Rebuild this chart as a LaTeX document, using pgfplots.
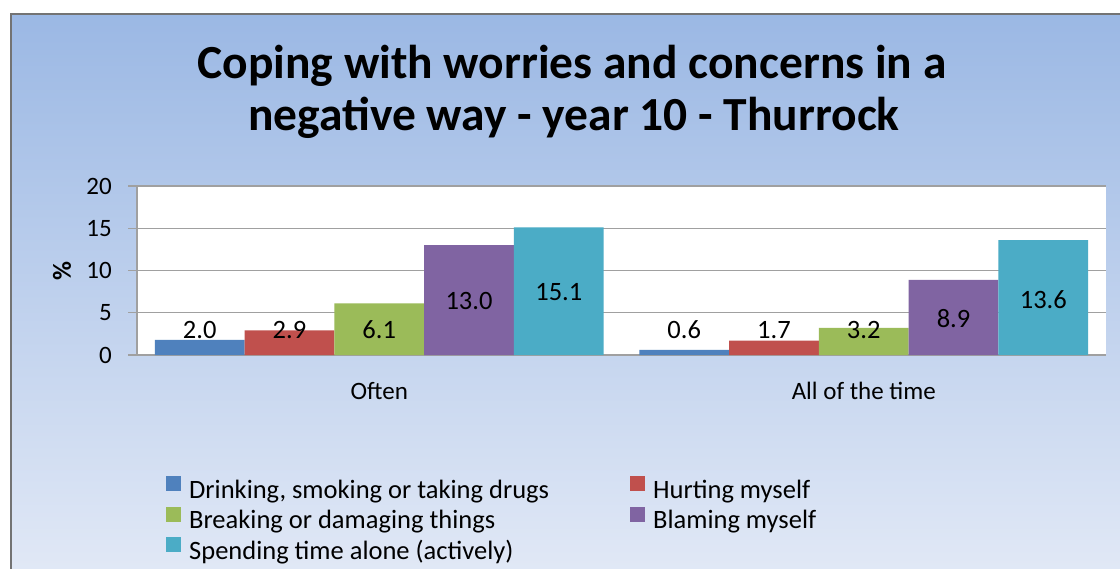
\documentclass[border=0pt]{standalone}
\usepackage{pgfplots}
\pgfplotsset{compat=1.18}
\usepackage{fontspec}
\setmainfont{Carlito}

\definecolor{sDrink}{HTML}{4F81BD}
\definecolor{sHurt}{HTML}{C0504D}
\definecolor{sBreak}{HTML}{9BBB59}
\definecolor{sBlame}{HTML}{8064A2}
\definecolor{sAlone}{HTML}{4BACC6}
\definecolor{bgTop}{RGB}{155,184,228}
\definecolor{bgBot}{RGB}{226,233,246}
\definecolor{gridGray}{RGB}{160,160,160}

\newcommand{\fs}[1]{\fontsize{#1}{#1}\selectfont}

\begin{document}
\begin{tikzpicture}[x=1pt,y=1pt]
\useasboundingbox (0,0) rectangle (1120,-569);
\clip (0,0) rectangle (1120,-569);
\shade[top color=bgTop, bottom color=bgBot] (11,-14) rectangle (1130,-580);
\draw[gray!90!black, line width=1.8pt] (11,-580) -- (11,-14) -- (1130,-14);

% title
\node[anchor=base, font=\bfseries\fs{47.5}] at (572,-79) {Coping with worries and concerns in a};
\node[anchor=base, font=\bfseries\fs{47.5}] at (574,-131) {negative way - year 10 - Thurrock};

\begin{axis}[
    at={(137pt,-355pt)}, anchor=south west,
    scale only axis, width=969pt, height=169pt,
    xmin=-0.5, xmax=1.5, ymin=0, ymax=20,
    ytick={0,5,10,15,20},
    xtick={0,1}, xticklabels={Often, All of the time},
    axis x line*=bottom, axis y line*=left,
    axis line style={gridGray, line width=1.2pt, -},
    axis background/.style={fill=white},
    ymajorgrids, grid style={gridGray, line width=1.2pt},
    tick align=outside, major tick length=9pt,
    ytick style={gridGray, line width=1.2pt},
    xtick style={draw=none},
    /pgf/number format/assume math mode=true,
    tick label style={font=\fs{25}},
    yticklabel style={inner sep=0pt, anchor=east, xshift=-16pt},
    xticklabel style={inner sep=0pt, anchor=base, yshift=-35pt},
    ylabel={\%},
    ylabel style={font=\bfseries\fs{26}, at={(axis description cs:-0.0774,0.497)}, anchor=center},
    legend columns=2,
    legend style={at={(axis description cs:0.0299,-0.716)}, anchor=north west,
        draw=none, fill=none, inner sep=0pt, row sep=2.5pt,
        font=\fs{26.5},
        nodes={inner sep=0pt, text height=18pt, text depth=6pt},
        /tikz/every odd column/.append style={column sep=8pt}},
    legend cell align=left,
    legend image code/.code={\fill[#1, draw=none] (0pt,1pt) rectangle (15pt,16pt);},
    every node near coord/.append style={font=\fs{26.5}, anchor=center, text=black},
]

\addplot[ybar, bar width=0.1853, bar shift=-0.3706, fill=sDrink, draw=none]
    coordinates {(0,1.8) (1,0.6)};
\addlegendentry{\makebox[441pt][l]{Drinking, smoking or taking drugs}}
\addplot[ybar, bar width=0.1853, bar shift=-0.1853, fill=sHurt, draw=none]
    coordinates {(0,2.9) (1,1.7)};
\addlegendentry{Hurting myself}
\addplot[ybar, bar width=0.1853, bar shift=0, fill=sBreak, draw=none]
    coordinates {(0,6.1) (1,3.2)};
\addlegendentry{\makebox[441pt][l]{Breaking or damaging things}}
\addplot[ybar, bar width=0.1853, bar shift=0.1853, fill=sBlame, draw=none]
    coordinates {(0,13.0) (1,8.9)};
\addlegendentry{Blaming myself}
\addplot[ybar, bar width=0.1853, bar shift=0.3706, fill=sAlone, draw=none]
    coordinates {(0,15.1) (1,13.6)};
\addlegendentry{\makebox[441pt][l]{Spending time alone (actively)}}

% value labels, at the positions they sit in the reference
\addplot[forget plot, only marks, mark=none, nodes near coords,
    point meta=explicit symbolic] coordinates {
    (-0.3706,2.96) [2.0]
    (-0.1853,2.96) [2.9]
    (0,2.96) [6.1]
    (0.1853,6.4) [13.0]
    (0.3706,7.46) [15.1]
    (0.6294,2.96) [0.6]
    (0.8147,2.96) [1.7]
    (1,2.96) [3.2]
    (1.1853,4.26) [8.9]
    (1.3706,6.5) [13.6]
};
\end{axis}
\end{tikzpicture}
\end{document}
